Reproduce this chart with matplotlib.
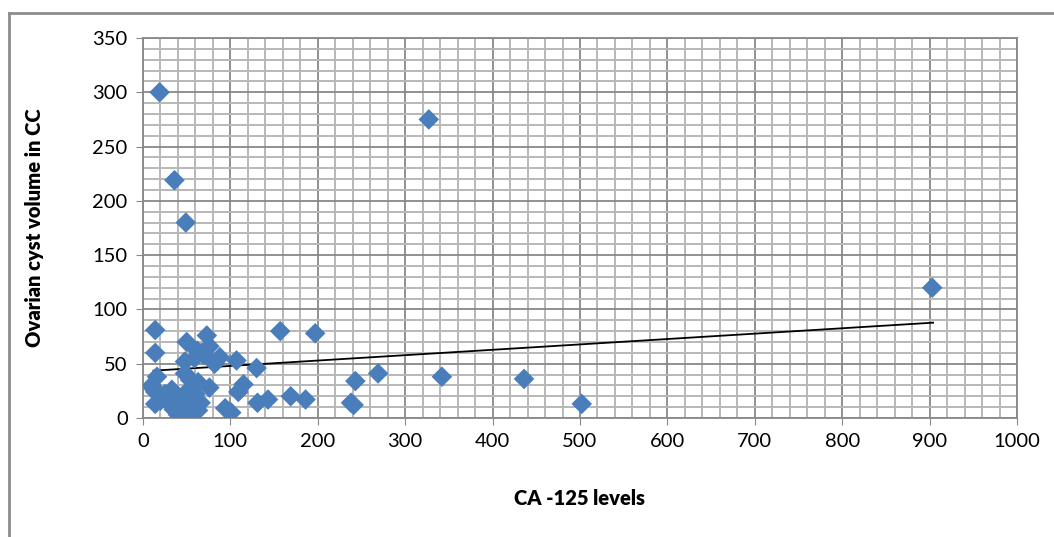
import numpy as np
import matplotlib
matplotlib.use('Agg')
import matplotlib.pyplot as plt
from matplotlib.lines import Line2D
from matplotlib.ticker import MultipleLocator

# CA-125 levels against ovarian cyst volume
ca125 = [19, 36, 49, 327, 903,
         14, 157, 197, 73, 50, 76,
         14, 67, 59, 48, 88, 82, 107, 130,
         16, 10, 14, 14, 21,
         48, 54, 63, 76,
         33, 37, 29, 44, 56, 59, 40, 52, 63, 94, 101,
         115, 109, 131, 143, 169, 186, 238, 241, 243, 269, 342, 436, 502,
         12, 20, 25, 45, 60, 66, 35, 48, 55, 70, 62]
volume = [300, 219, 180, 275, 120,
          81, 80, 78, 76, 70, 66,
          60, 60, 55, 52, 56, 50, 53, 46,
          38, 30, 24, 13, 20,
          41, 35, 33, 28,
          26, 18, 15, 12, 18, 10, 3, 4, 7, 9, 5,
          31, 24, 14, 17, 20, 17, 14, 12, 34, 41, 38, 36, 13,
          27, 16, 22, 20, 22, 14, 8, 15, 28, 58, 62]

# linear trend line as drawn in the chart
trend_x = [12, 904]
trend_y = [43.6, 87.8]

plt.rcParams['font.family'] = ['Lato', 'DejaVu Sans']

fig = plt.figure(figsize=(10.54, 5.37), dpi=100)
ax = fig.add_axes([143 / 1054, 1 - 418 / 537, (1017 - 143) / 1054, (418 - 38) / 537])

ax.plot(trend_x, trend_y, color='black', linewidth=1.3, zorder=3)
ax.scatter(ca125, volume, marker='D', s=110, color='#4a7ebb', edgecolors='none', zorder=4)

ax.set_xlim(0, 1000)
ax.set_ylim(0, 350)
ax.xaxis.set_major_locator(MultipleLocator(100))
ax.xaxis.set_minor_locator(MultipleLocator(20))
ax.yaxis.set_major_locator(MultipleLocator(50))
ax.yaxis.set_minor_locator(MultipleLocator(10))

ax.grid(which='minor', color='#b8b8b8', linewidth=1.4, zorder=0)
ax.grid(which='major', color='#888888', linewidth=1.3, zorder=1)
ax.set_axisbelow(True)

for side in ['top', 'right', 'left', 'bottom']:
    ax.spines[side].set_color('#888888')
    ax.spines[side].set_linewidth(1.3)

ax.tick_params(which='major', direction='out', length=5, color='#888888',
               labelsize=14.5, pad=6, labelcolor='black')
ax.tick_params(which='minor', length=0)

ax.set_xlabel('CA -125 levels', fontsize=14.5, fontweight='heavy', labelpad=28)
ax.set_ylabel('Ovarian cyst volume in CC', fontsize=14.5, fontweight='heavy', labelpad=35)

# outer chart frame
fig.add_artist(Line2D([9 / 1054, 9 / 1054], [0, 1 - 13 / 537], transform=fig.transFigure,
                      color='#8c8c8c', linewidth=2))
fig.add_artist(Line2D([9 / 1054, 1], [1 - 13 / 537, 1 - 13 / 537], transform=fig.transFigure,
                      color='#8c8c8c', linewidth=2))

fig.savefig('out.png', dpi=100)
